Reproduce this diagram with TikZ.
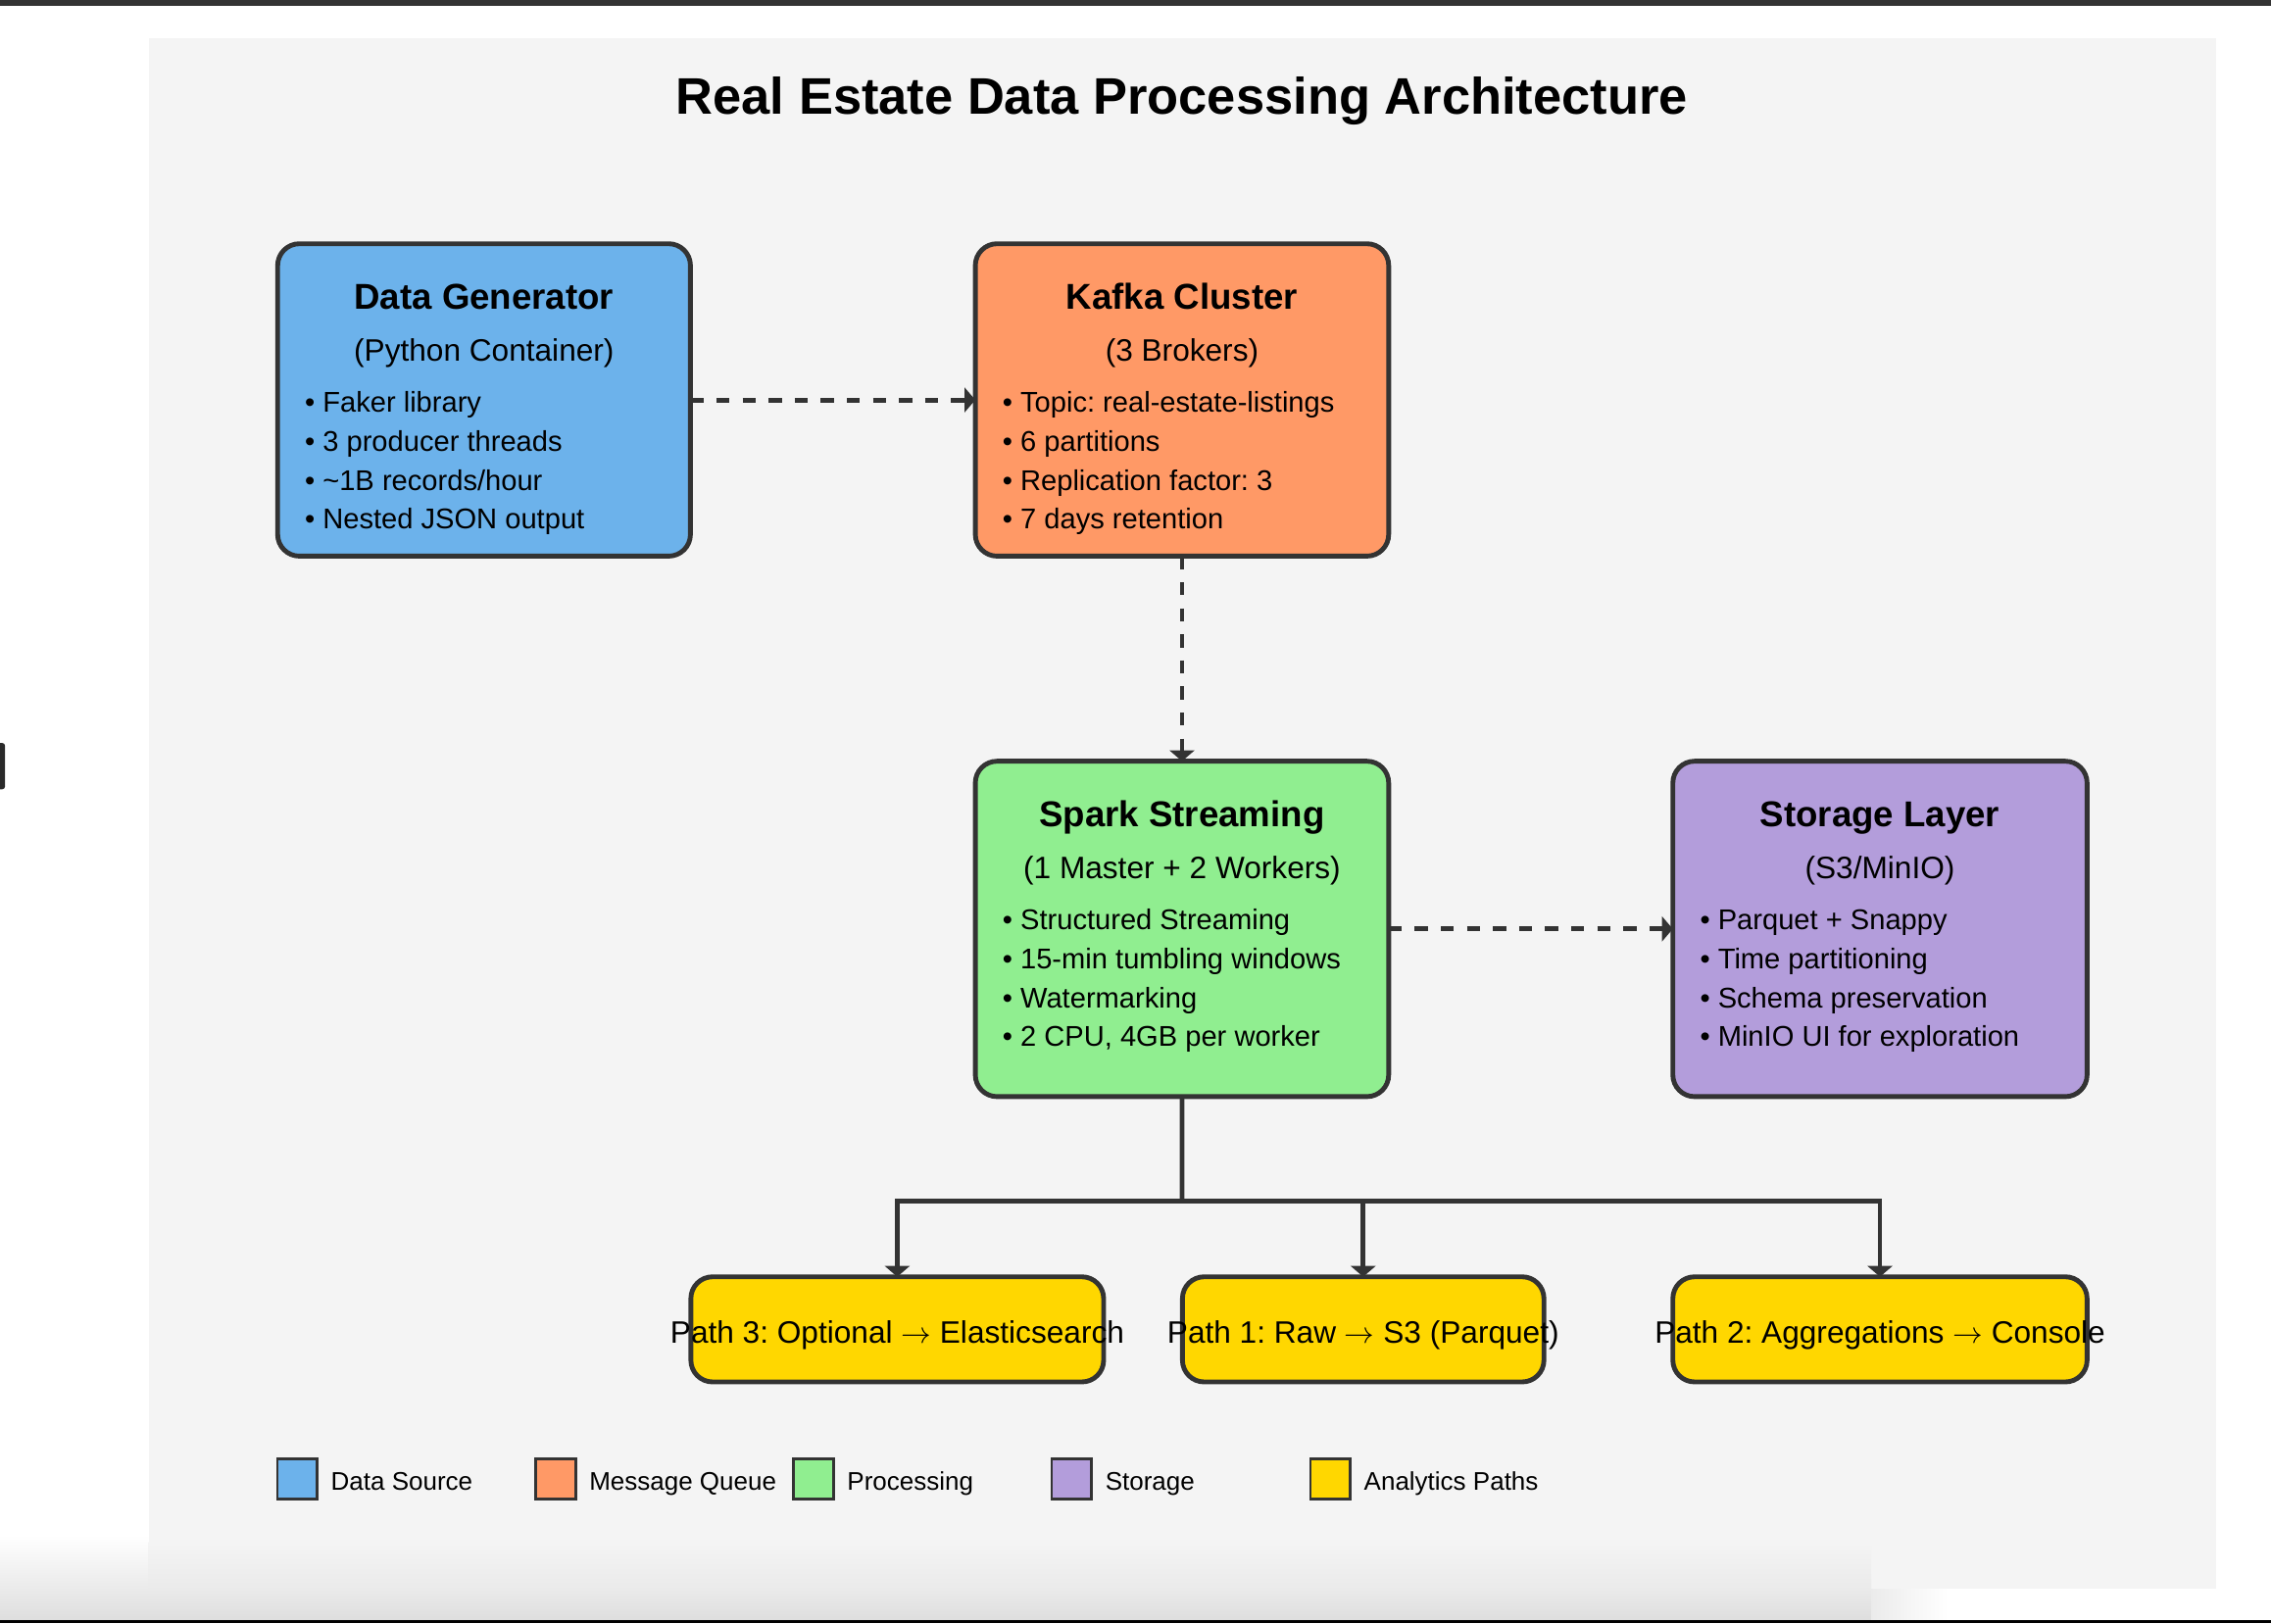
\documentclass[tikz,border=0pt]{standalone}
\usepackage{fontspec}
\setmainfont{Liberation Sans}
\usetikzlibrary{arrows.meta,calc}
\definecolor{strokec}{HTML}{333333}
\definecolor{panelbg}{HTML}{F4F4F4}
\definecolor{dsblue}{HTML}{6CB2EB}
\definecolor{mqorange}{HTML}{FF9966}
\definecolor{prgreen}{HTML}{90EE90}
\definecolor{stpurple}{HTML}{B39DDB}
\definecolor{angold}{HTML}{FFD700}
\definecolor{shadegray}{HTML}{DEDEDE}
\definecolor{blipc}{HTML}{2A2A2A}
\frenchspacing
\newcommand{\rarr}{\ensuremath{\rightarrow}}
\begin{document}
\begin{tikzpicture}[x=1pt,y=-1pt,
  box/.style={draw=strokec, line width=3.3pt, rounded corners=15pt, inner sep=0pt, outer sep=0pt, anchor=north west},
  ttl/.style={font=\fontsize{24.8}{28}\selectfont\bfseries, anchor=base, inner sep=0pt},
  subt/.style={font=\fontsize{21.4}{24}\selectfont, anchor=base, inner sep=0pt},
  bul/.style={font=\fontsize{19.7}{22}\selectfont, anchor=base west, inner sep=0pt},
  pathtxt/.style={font=\fontsize{21.4}{24}\selectfont, anchor=base, inner sep=0pt},
  legsq/.style={draw=strokec, line width=1.8pt, minimum width=27.5pt, minimum height=27.5pt, inner sep=0pt, outer sep=0pt, anchor=north west},
  leglab/.style={font=\fontsize{17.6}{20}\selectfont, anchor=base west, inner sep=0pt},
  tip/.style={-{Triangle[length=7.5pt,width=17pt]}},
  dashconn/.style={draw=strokec, line width=3.3pt, dash pattern=on 9pt off 9pt, tip},
  solidconn/.style={draw=strokec, line width=3.3pt, line join=miter},
]
\useasboundingbox (0,0) rectangle (1568,1120.7);
% screen decoration
\fill[white] (0,0) rectangle (1568,1120.7);
\shade[top color=white, bottom color=shadegray] (0,1060) rectangle (1292,1118.5);
\shade[left color=shadegray!60!white, right color=white] (1292,1085) rectangle (1345,1118.5);
\fill[panelbg] (102.6,26.4) rectangle (1530,1097);
\shade[top color=panelbg, bottom color=panelbg!96!black] (102.6,1065) rectangle (1292,1097);
\fill[strokec] (0,0) rectangle (1568,4.4);
\fill[black] (0,1118.4) rectangle (1568,1120.7);
\fill[blipc, rounded corners=2pt] (-4,513) rectangle (3.5,545);

% title
\node[font=\fontsize{35.5}{40}\selectfont\bfseries, anchor=base, inner sep=0pt] (title) at (816,79) {Real Estate Data Processing Architecture};

% main boxes
\node[box, fill=dsblue, minimum width=285pt, minimum height=215.7pt] (gen) at (191.7,168.3) {};
\node[box, fill=mqorange, minimum width=285.4pt, minimum height=215.7pt] (kafka) at (673.4,168.3) {};
\node[box, fill=prgreen, minimum width=285.4pt, minimum height=231.6pt] (spark) at (673.4,525.6) {};
\node[box, fill=stpurple, minimum width=286pt, minimum height=231.6pt] (store) at (1155,525.6) {};

% Data Generator text
\node[ttl] (genT) at ($(gen.north)+(0,45.2)$) {Data Generator};
\node[subt] (genS) at ($(gen.north)+(0,81.4)$) {(Python Container)};
\node[bul] (genB1) at ($(gen.north west)+(18.6,116.6)$) {• Faker library};
\node[bul] (genB2) at ($(gen.north west)+(18.6,143.4)$) {• 3 producer threads};
\node[bul] (genB3) at ($(gen.north west)+(18.6,170.2)$) {• \char"7E\relax 1B records/hour};
\node[bul] (genB4) at ($(gen.north west)+(18.6,196.9)$) {• Nested JSON output};

% Kafka text
\node[ttl] (kafT) at ($(kafka.north)+(0,45.2)$) {Kafka Cluster};
\node[subt] (kafS) at ($(kafka.north)+(0,81.4)$) {(3 Brokers)};
\node[bul] (kafB1) at ($(kafka.north west)+(18.6,116.6)$) {• Topic: real-estate-listings};
\node[bul] (kafB2) at ($(kafka.north west)+(18.6,143.4)$) {• 6 partitions};
\node[bul] (kafB3) at ($(kafka.north west)+(18.6,170.2)$) {• Replication factor: 3};
\node[bul] (kafB4) at ($(kafka.north west)+(18.6,196.9)$) {• 7 days retention};

% Spark text
\node[ttl] (spkT) at ($(spark.north)+(0,45.2)$) {Spark Streaming};
\node[subt] (spkS) at ($(spark.north)+(0,81.4)$) {(1 Master + 2 Workers)};
\node[bul] (spkB1) at ($(spark.north west)+(18.6,116.6)$) {• Structured Streaming};
\node[bul] (spkB2) at ($(spark.north west)+(18.6,143.4)$) {• 15-min tumbling windows};
\node[bul] (spkB3) at ($(spark.north west)+(18.6,170.2)$) {• Watermarking};
\node[bul] (spkB4) at ($(spark.north west)+(18.6,196.9)$) {• 2 CPU, 4GB per worker};

% Storage text
\node[ttl] (stoT) at ($(store.north)+(0,45.2)$) {Storage Layer};
\node[subt] (stoS) at ($(store.north)+(0,81.4)$) {(S3/MinIO)};
\node[bul] (stoB1) at ($(store.north west)+(18.6,116.6)$) {• Parquet + Snappy};
\node[bul] (stoB2) at ($(store.north west)+(18.6,143.4)$) {• Time partitioning};
\node[bul] (stoB3) at ($(store.north west)+(18.6,170.2)$) {• Schema preservation};
\node[bul] (stoB4) at ($(store.north west)+(18.6,196.9)$) {• MinIO UI for exploration};

% analytics path boxes
\node[box, fill=angold, minimum width=285pt, minimum height=72.6pt] (p3) at (477,881.6) {};
\node[box, fill=angold, minimum width=249.6pt, minimum height=72.6pt] (p1) at (816.4,881.6) {};
\node[box, fill=angold, minimum width=286pt, minimum height=72.6pt] (p2) at (1155,881.6) {};
\node[pathtxt] (p3T) at ($(p3.north)+(0,46)$) {Path 3: Optional \rarr{} Elasticsearch};
\node[pathtxt] (p1T) at ($(p1.north)+(0,46)$) {Path 1: Raw \rarr{} S3 (Parquet)};
\node[pathtxt] (p2T) at ($(p2.north)+(0,46)$) {Path 2: Aggregations \rarr{} Console};

% connectors
\draw[dashconn] (gen.east) -- (kafka.west);
\draw[dashconn] (kafka.south) -- (spark.north);
\draw[dashconn] (spark.east) -- (store.west);
\coordinate (junc) at (816.1,829.4);
\draw[solidconn] (spark.south) -- (junc);
\draw[solidconn, tip] (junc) -| (p3.north);
\draw[solidconn, tip] (junc) -| (p1.north);
\draw[solidconn, tip] (junc) -| (p2.north);

% legend
\node[legsq, fill=dsblue] (l1) at (191.5,1007.4) {};
\node[legsq, fill=mqorange] (l2) at (369.9,1007.4) {};
\node[legsq, fill=prgreen] (l3) at (548.0,1007.4) {};
\node[legsq, fill=stpurple] (l4) at (726.2,1007.4) {};
\node[legsq, fill=angold] (l5) at (904.8,1007.4) {};
\node[leglab] (l1T) at ($(l1.north west)+(36.8,21.9)$) {Data Source};
\node[leglab] (l2T) at ($(l2.north west)+(36.8,21.9)$) {Message Queue};
\node[leglab] (l3T) at ($(l3.north west)+(36.8,21.9)$) {Processing};
\node[leglab] (l4T) at ($(l4.north west)+(36.8,21.9)$) {Storage};
\node[leglab] (l5T) at ($(l5.north west)+(36.8,21.9)$) {Analytics Paths};
\end{tikzpicture}
\end{document}
